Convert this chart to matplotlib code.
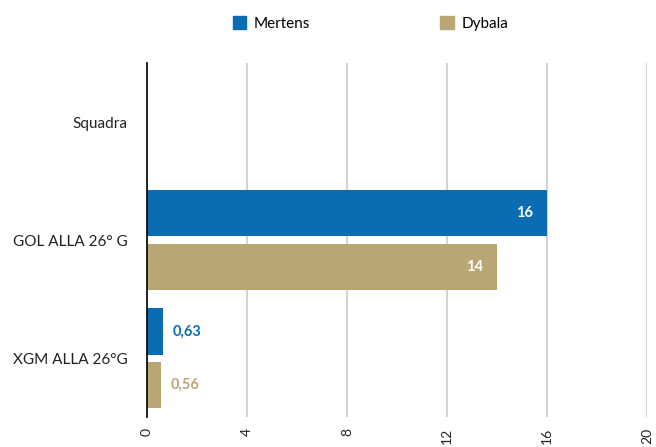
import matplotlib
matplotlib.use("Agg")
import matplotlib.pyplot as plt
import numpy as np
from matplotlib.patches import Patch

categories = ["Squadra", "GOL ALLA 26° G", "XGM ALLA 26°G"]
mertens = [np.nan, 16, 0.63]
dybala = [np.nan, 14, 0.56]
mertens_labels = ["", "16", "0,63"]
dybala_labels = ["", "14", "0,56"]
xticks = [0, 4, 8, 12, 16, 20]

blue = "#0a6db4"
tan = "#b8a774"

plt.rcParams['font.family'] = ['Lato', 'DejaVu Sans']

fig = plt.figure(figsize=(6.56, 4.47), dpi=100)
ax = fig.add_axes([0.224, 0.067, 0.762, 0.792])

y = np.arange(len(categories))
h = 0.39
ax.barh(y - 0.225, mertens, height=h, color=blue, zorder=3)
ax.barh(y + 0.225, dybala, height=h, color=tan, zorder=3)

for i in range(len(categories)):
    for val, lab, off, col in [(mertens[i], mertens_labels[i], -0.225, blue),
                               (dybala[i], dybala_labels[i], 0.225, tan)]:
        if not lab or np.isnan(val):
            continue
        if val > 4:
            ax.annotate(lab, (val, y[i] + off), xytext=(-10, 0), textcoords="offset points",
                        ha="right", va="center", color="white", fontsize=10.5, fontweight="bold", zorder=4)
        else:
            ax.annotate(lab, (val, y[i] + off), xytext=(7, 0), textcoords="offset points",
                        ha="left", va="center", color=col, fontsize=10.5, fontweight="bold", zorder=4)

ax.set_xlim(0, 20)
ax.set_ylim(2.5, -0.5)
ax.set_yticks(y)
ax.set_yticklabels(categories, fontsize=11, color="#222222")
ax.set_xticks(xticks)
ax.set_xticklabels([str(t) for t in xticks], rotation=90, fontsize=10, color="#222222")
ax.tick_params(axis="x", length=0, pad=8)
ax.tick_params(axis="y", length=0, pad=14)
ax.grid(axis="x", color="#cccccc", linewidth=1.2, zorder=0)
for s in ["top", "right", "bottom"]:
    ax.spines[s].set_visible(False)
ax.spines["left"].set_color("black")
ax.spines["left"].set_linewidth(1.2)
ax.spines["left"].set_zorder(5)

handles = [Patch(color=blue, label="Mertens"), Patch(color=tan, label="Dybala")]
fig.legend(handles=handles, loc="center", bbox_to_anchor=(0.565, 0.948), ncol=2,
           frameon=False, fontsize=11, handlelength=0.9, handleheight=0.9,
           handletextpad=0.5, columnspacing=8.5)

fig.savefig("out.png", dpi=100)
